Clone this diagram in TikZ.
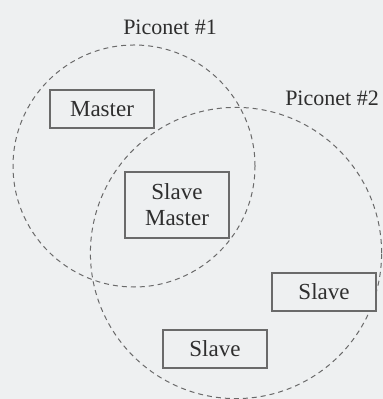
\documentclass[tikz,border=0pt]{standalone}
\usepackage{fontspec}
\setmainfont{Liberation Serif}
\usepackage{tikz}
\usetikzlibrary{positioning}
\definecolor{PaperBg}{HTML}{EEF0F1}
\definecolor{InkGray}{HTML}{2E2E2E}
\definecolor{RingGray}{HTML}{6A6A6A}

\begin{document}
\begin{tikzpicture}[x=0.5pt, y=-0.5pt,
    device/.style={draw=RingGray, line width=0.7pt, fill=PaperBg, text=InkGray, font=\rmfamily\fontsize{11.5}{13}\selectfont, minimum width=52pt, minimum height=19pt, inner sep=1pt, align=center},
    ring/.style={draw=RingGray, line width=0.5pt, dash pattern=on 2.5pt off 2pt},
    tag/.style={text=InkGray, font=\rmfamily\fontsize{11}{13}\selectfont, inner sep=0pt}
  ]
    \fill[PaperBg] (0,0) rectangle (383,399);
    \useasboundingbox (0,0) rectangle (383,399);

    \draw[ring] (134,166) circle[radius=60.5pt];
    \draw[ring] (236,253) circle[radius=72.8pt];

    \node[tag] (pn1) at (170,27) {Piconet \#1};
    \node[tag] (pn2) at (332,98) {Piconet \#2};

    \node[device] (master) at (102,109) {Master};
    \node[device, minimum height=33pt] (bridge) at (177,205) {Slave\\Master};
    \node[device] (slaveA) at (324,292) {Slave};
    \node[device] (slaveB) at (215,349) {Slave};
  \end{tikzpicture}
\end{document}
